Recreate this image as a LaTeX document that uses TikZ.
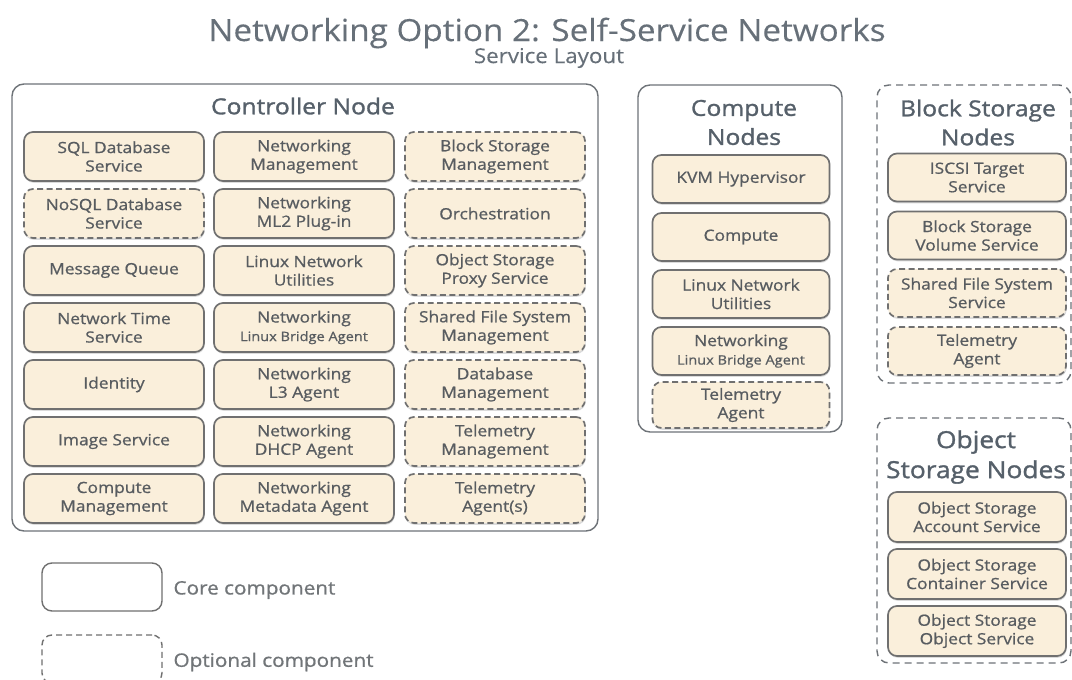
\documentclass[tikz,border=0pt]{standalone}
\usepackage{fontspec}
\setmainfont{Open Sans}[FakeStretch=1.12, FakeBold=0.85]
\newfontfamily\titlefont{Open Sans}[FakeStretch=1.09, FakeBold=0.2]
\newfontfamily\headfont{Open Sans}[FakeStretch=1.12, FakeBold=1.3]
\usetikzlibrary{positioning,shadows}

\definecolor{boxfill}{HTML}{FAEFDB}
\definecolor{boxline}{HTML}{707070}
\definecolor{txt}{HTML}{585C60}
\definecolor{head}{HTML}{56606A}
\definecolor{frame}{HTML}{6E7378}

\tikzset{
  core/.style={draw=boxline, fill=boxfill, line width=1.7pt, rounded corners=9pt,
    minimum width=180pt, minimum height=49pt, align=center, text=txt, inner sep=0pt,
    font=\fontsize{15.5}{18.5}\selectfont,
    drop shadow={opacity=0.28, shadow xshift=0.6pt, shadow yshift=-1.8pt}},
  opt/.style={core, dash pattern=on 6pt off 3.5pt},
  group/.style={draw=frame, line width=1.4pt, rounded corners=12pt},
  groupopt/.style={group, dash pattern=on 7pt off 5pt},
  heading/.style={text=head, align=center, font=\headfont\fontsize{22}{29}\selectfont},
  legendbox/.style={draw=boxline, line width=1.4pt, rounded corners=10pt,
    minimum width=120pt, minimum height=48pt, inner sep=0pt},
  legendtext/.style={text=txt!85, font=\fontsize{18.5}{20}\selectfont, anchor=west},
}
\newcommand{\smallline}[1]{{\fontsize{13}{14}\selectfont #1}}

\begin{document}
\begin{tikzpicture}[x=1pt,y=-1pt]
\clip (0,0) rectangle (1072,680);
\fill[white] (0,0) rectangle (1072,680);

% title
\node[text=head!90, font=\titlefont\fontsize{30.5}{34}\selectfont] (title) at (547,33) {Networking Option 2: Self-Service Networks};
\node[text=head!90, font=\titlefont\fontsize{20.5}{24}\selectfont] (subtitle) at (549,58) {Service Layout};

% controller node
\node[group, minimum width=586pt, minimum height=447pt] (ctrl) at (305,307.5) {};
\node[heading] (ctrlhead) at (303,106) {Controller Node};

\node[core] (sql)   at (114,156.5) {SQL Database\\Service};
\node[opt]  (nosql) at (114,213.5) {NoSQL Database\\Service};
\node[core] (mq)    at (114,270.5) {Message Queue};
\node[core] (ntp)   at (114,327.5) {Network Time\\Service};
\node[core] (ident) at (114,384.5) {Identity};
\node[core] (image) at (114,441.5) {Image Service};
\node[core] (cmgmt) at (114,498.5) {Compute\\Management};

\node[core] (netmgmt) at (304,156.5) {Networking\\Management};
\node[core] (ml2)     at (304,213.5) {Networking\\ML2 Plug-in};
\node[core] (lnu)     at (304,270.5) {Linux Network\\Utilities};
\node[core] (lba)     at (304,327.5) {Networking\\\smallline{Linux Bridge Agent}};
\node[core] (l3)      at (304,384.5) {Networking\\L3 Agent};
\node[core] (dhcp)    at (304,441.5) {Networking\\DHCP Agent};
\node[core] (meta)    at (304,498.5) {Networking\\Metadata Agent};

\node[opt] (bsm)   at (495,156.5) {Block Storage\\Management};
\node[opt] (orch)  at (495,213.5) {Orchestration};
\node[opt] (osps)  at (495,270.5) {Object Storage\\Proxy Service};
\node[opt] (sfsm)  at (495,327.5) {Shared File System\\Management};
\node[opt] (dbm)   at (495,384.5) {Database\\Management};
\node[opt] (telm)  at (495,441.5) {Telemetry\\Management};
\node[opt] (tela)  at (495,498.5) {Telemetry\\Agent(s)};

% compute nodes
\node[group, minimum width=204pt, minimum height=347pt] (comp) at (740,258.5) {};
\node[heading] (comphead) at (744,122.5) {Compute\\Nodes};
\node[core, minimum width=177pt, minimum height=48pt] (kvm)  at (741,179) {KVM Hypervisor};
\node[core, minimum width=177pt, minimum height=48pt] (nova) at (741,237) {Compute};
\node[core, minimum width=177pt, minimum height=48pt] (clnu) at (741,294) {Linux Network\\Utilities};
\node[core, minimum width=177pt, minimum height=48pt] (clba) at (741,351) {Networking\\\smallline{Linux Bridge Agent}};
\node[opt,  minimum width=177pt, minimum height=46pt] (ctel) at (741,405) {Telemetry\\Agent};

% block storage nodes
\node[groupopt, minimum width=194pt, minimum height=298pt] (blk) at (974,234) {};
\node[heading] (blkhead) at (978,122.5) {Block Storage\\Nodes};
\node[core, minimum width=178pt, minimum height=48pt] (iscsi) at (977,177.5) {ISCSI Target\\Service};
\node[core, minimum width=178pt, minimum height=48pt] (bsvs)  at (977,235.5) {Block Storage\\Volume Service};
\node[opt,  minimum width=178pt, minimum height=48pt] (sfss)  at (977,293) {Shared File System\\Service};
\node[opt,  minimum width=178pt, minimum height=48pt] (btel)  at (977,351) {Telemetry\\Agent};

% object storage nodes
\node[groupopt, minimum width=194pt, minimum height=245pt] (obj) at (974,540.5) {};
\node[heading, font=\headfont\fontsize{23.5}{30}\selectfont] (objhead) at (976,457) {Object\\Storage Nodes};
\node[core, minimum width=178pt, minimum height=50pt] (acct) at (977,517) {Object Storage\\Account Service};
\node[core, minimum width=178pt, minimum height=50pt] (cont) at (977,574) {Object Storage\\Container Service};
\node[core, minimum width=178pt, minimum height=50pt] (objs) at (977,631) {Object Storage\\Object Service};

% legend
\node[legendbox] (legcore) at (102,587) {};
\node[legendtext] (legcoretxt) at (170,590) {Core component};
\node[legendbox, dash pattern=on 6pt off 4pt] (legopt) at (102,659) {};
\node[legendtext] (legopttxt) at (170,662) {Optional component};
\end{tikzpicture}
\end{document}
